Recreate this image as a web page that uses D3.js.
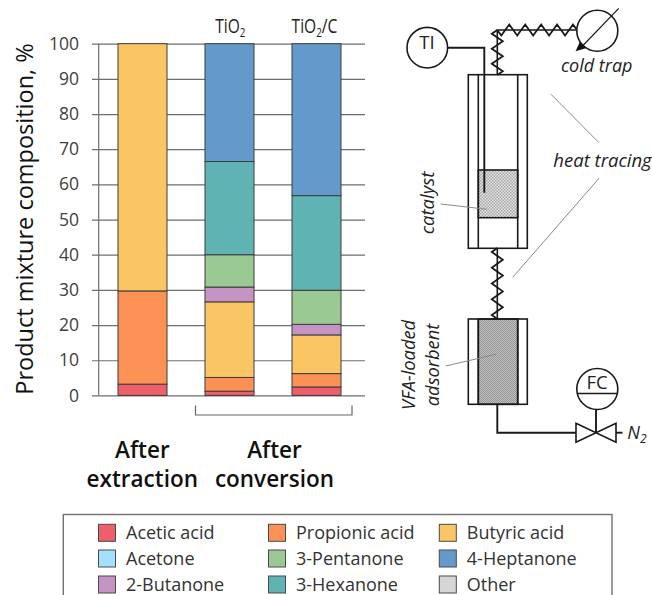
<!DOCTYPE html>
<html lang="en">
<head>
<meta charset="UTF-8">
<title>Product mixture composition</title>
<script src="https://d3js.org/d3.v7.min.js"></script>
<style>
  html, body { margin: 0; padding: 0; background: #fff; overflow: hidden; }
  svg { display: block; }
  text { font-family: "Open Sans", "Noto Sans", sans-serif; }
</style>
</head>
<body>
<script>
// bars, in stacking order from the bottom
var categories = ['After extraction', 'TiO2', 'TiO2/C'];
var acetic = [3.2, 1.2, 2.4];
var propionic = [26.5, 3.9, 3.8];
var butyric = [70.3, 21.5, 11.0];
var acetone = [0, 0, 0];
var butanone = [0, 4.2, 3.0];
var pentanone = [0, 9.2, 9.7];
var hexanone = [0, 26.5, 26.9];
var heptanone = [0, 33.5, 43.2];
var other = [0, 0, 0];

var yTicks = [0, 10, 20, 30, 40, 50, 60, 70, 80, 90, 100];

var seriesNames = ['Acetic acid', 'Propionic acid', 'Butyric acid', 'Acetone', '2-Butanone',
                   '3-Pentanone', '3-Hexanone', '4-Heptanone', 'Other'];
var seriesValues = [acetic, propionic, butyric, acetone, butanone, pentanone, hexanone, heptanone, other];
var seriesColors = ['#ee5f6b', '#fb9155', '#fac663', '#a3e0fb', '#c593c4', '#9bc993', '#60b3b3', '#6499cc', '#d6d6d6'];

// legend reads column by column
var legendOrder = [['Acetic acid', 'Acetone', '2-Butanone'],
                   ['Propionic acid', '3-Pentanone', '3-Hexanone'],
                   ['Butyric acid', '4-Heptanone', 'Other']];

var w = 652;
var h = 595;

var svg = d3.select('body').append('svg')
    .attr('width', w)
    .attr('height', h);

var defs = svg.append('defs');

// dotted fills of the catalyst and the adsorbent
function dots(id, size, bg, fg) {
    var p = defs.append('pattern')
        .attr('id', id)
        .attr('width', size)
        .attr('height', size)
        .attr('patternUnits', 'userSpaceOnUse');
    p.append('rect').attr('width', size).attr('height', size).attr('fill', bg);
    p.append('rect').attr('width', size / 2).attr('height', size / 2).attr('fill', fg);
    p.append('rect').attr('x', size / 2).attr('y', size / 2).attr('width', size / 2).attr('height', size / 2).attr('fill', fg);
}
dots('catalyst', 3, '#e4e4e4', '#a8a8a8');
dots('adsorbent', 2, '#c0c0c0', '#969696');

var yScale = d3.scaleLinear().domain([0, 100]).range([395.4, 43.7]);

var xScale = d3.scaleBand()
    .domain(categories)
    .range([99, 360])
    .paddingInner(38 / 87)
    .paddingOuter(19 / 87);

// grid lines double as ticks, so the axis draws them
var yAxis = d3.axisLeft(yScale)
    .tickValues(yTicks)
    .tickSize(-273)
    .tickPadding(13)
    .tickFormat(d3.format('d'));

var axisG = svg.append('g')
    .attr('transform', 'translate(92,0)')
    .call(yAxis);
axisG.select('.domain').remove();
axisG.selectAll('.tick line').attr('stroke', '#6e6e6e').attr('stroke-width', 1.2);
axisG.selectAll('.tick text')
    .attr('fill', '#404040')
    .attr('font-size', 17.5);

svg.append('line')
    .attr('x1', 98.7).attr('x2', 98.7)
    .attr('y1', yScale(100)).attr('y2', yScale(0))
    .attr('stroke', '#6e6e6e').attr('stroke-width', 1.2);

var rows = categories.map(function(c, i) {
    var row = { category: c };
    seriesNames.forEach(function(s, k) { row[s] = seriesValues[k][i]; });
    return row;
});

var stacked = d3.stack().keys(seriesNames)(rows);

svg.selectAll('.layer')
    .data(stacked)
    .enter()
    .append('g')
    .attr('class', 'layer')
    .attr('fill', function(d, i) { return seriesColors[i]; })
    .selectAll('rect')
    .data(function(d) { return d.filter(function(v) { return v[1] > v[0]; }); })
    .enter()
    .append('rect')
    .attr('x', function(d) { return xScale(d.data.category); })
    .attr('y', function(d) { return yScale(d[1]); })
    .attr('width', xScale.bandwidth())
    .attr('height', function(d) { return yScale(d[0]) - yScale(d[1]); })
    .attr('stroke', '#3c3c3c')
    .attr('stroke-width', 1);

// y title
svg.append('text')
    .attr('transform', 'translate(32.7,219) rotate(-90)')
    .attr('text-anchor', 'middle')
    .attr('font-size', 23.5)
    .attr('fill', '#111')
    .text('Product mixture composition, %');

// catalyst names over the bars, squeezed since the original face is narrower
function subLabel(x, a, b) {
    var t = svg.append('text')
        .attr('transform', 'translate(' + x + ',33.3) scale(0.76,1)')
        .attr('text-anchor', 'middle')
        .attr('font-size', 20.5)
        .attr('fill', '#222');
    t.append('tspan').text(a);
    t.append('tspan').attr('dy', 4).attr('font-size', 13).text('2');
    t.append('tspan').attr('dy', -4).text(b);
}
subLabel(230.3, 'TiO', '');
subLabel(314.5, 'TiO', '/C');

// bracket under the conversion bars
svg.append('path')
    .attr('d', 'M195.5,405.5V415H352V405.5')
    .attr('fill', 'none')
    .attr('stroke', '#666')
    .attr('stroke-width', 1.2);

function groupLabel(x, lines) {
    svg.selectAll(null)
        .data(lines)
        .enter()
        .append('text')
        .attr('x', x)
        .attr('y', function(d, i) { return 458.3 + i * 29; })
        .attr('text-anchor', 'middle')
        .attr('font-size', 22.5)
        .attr('font-weight', 600)
        .attr('fill', '#111')
        .text(function(d) { return d; });
}
groupLabel(142.3, ['After', 'extraction']);
groupLabel(274.5, ['After', 'conversion']);

// legend, runs off the bottom of the picture
svg.append('rect')
    .attr('x', 63.3).attr('y', 514.5)
    .attr('width', 548.7).attr('height', 100)
    .attr('fill', 'none')
    .attr('stroke', '#707070')
    .attr('stroke-width', 1.4);

var legendX = [98.5, 268.5, 439.3];
var legendY = [524.3, 550, 576];

legendOrder.forEach(function(col, c) {
    col.forEach(function(name, r) {
        svg.append('rect')
            .attr('x', legendX[c]).attr('y', legendY[r])
            .attr('width', 17).attr('height', 17)
            .attr('fill', seriesColors[seriesNames.indexOf(name)])
            .attr('stroke', '#4a4a4a')
            .attr('stroke-width', 1);
        svg.append('text')
            .attr('x', legendX[c] + 27.5).attr('y', legendY[r] + 15)
            .attr('font-size', 18)
            .attr('fill', '#333')
            .text(name);
    });
});

// reactor schematic
var pfd = svg.append('g')
    .attr('fill', 'none')
    .attr('stroke', '#1a1a1a')
    .attr('stroke-width', 1.6);

function zigzag(x0, y0, x1, y1, n, amp) {
    var pts = [[x0, y0]];
    var dx = (x1 - x0) / n, dy = (y1 - y0) / n;
    var len = Math.sqrt(dx * dx + dy * dy);
    for (var i = 0; i < n; i++) {
        var s = i % 2 ? -1 : 1;
        pts.push([x0 + dx * (i + 0.5) - s * amp * dy / len, y0 + dy * (i + 0.5) + s * amp * dx / len]);
    }
    pts.push([x1, y1]);
    return d3.line()(pts);
}

// plain pipe with the heat tracing wound round it
pfd.append('path').attr('d', 'M497.3,75V30H577');
pfd.append('path').attr('d', zigzag(497.3, 75, 497.3, 30, 6, 5.5)).attr('stroke-width', 1.8);
pfd.append('path').attr('d', zigzag(497.3, 30, 577, 30, 10, 5.5)).attr('stroke-width', 1.8);
pfd.append('path').attr('d', 'M497.3,248V319');
pfd.append('path').attr('d', zigzag(497.3, 248, 497.3, 319, 9, 5.5)).attr('stroke-width', 1.8);

// top column
pfd.append('rect').attr('x', 478.3).attr('y', 170).attr('width', 39.4).attr('height', 47.7)
    .attr('fill', 'url(#catalyst)');
pfd.append('rect').attr('x', 468.3).attr('y', 74.7).attr('width', 59).attr('height', 173.6);
pfd.append('path').attr('d', 'M478.3,74.7V248.3M517.7,74.7V248.3');

// thermocouple
pfd.append('circle').attr('cx', 427.3).attr('cy', 47.7).attr('r', 20.3).attr('fill', '#fff');
pfd.append('path').attr('d', 'M447.6,47.7H484.3V192.7').attr('stroke-width', 1.9);

// cold trap
pfd.append('circle').attr('cx', 597.3).attr('cy', 30.7).attr('r', 20.5).attr('fill', '#fff');
pfd.append('path').attr('d', 'M618.7,8.3L582,46.5').attr('stroke-width', 1.2);
svg.append('path').attr('d', 'M575.6,51.3L580,41.5L586.5,48Z').attr('fill', '#111');

// bottom column
pfd.append('rect').attr('x', 478.3).attr('y', 319).attr('width', 39.4).attr('height', 85.3)
    .attr('fill', 'url(#adsorbent)');
pfd.append('rect').attr('x', 468.3).attr('y', 319).attr('width', 59).attr('height', 85.3);
pfd.append('path').attr('d', 'M478.3,319V404.3M517.7,319V404.3');

// feed line and valve
pfd.append('path').attr('d', 'M497.3,404.3V432.7H576').attr('stroke-width', 1.9);
pfd.append('path').attr('d', 'M576,423.3V442.3L616,423.3V442.3Z').attr('fill', '#fff');
pfd.append('path').attr('d', 'M616,432.7H622.5').attr('stroke-width', 1.9);
pfd.append('path').attr('d', 'M596,409.5V432.7').attr('stroke-width', 1.9);
pfd.append('circle').attr('cx', 597.3).attr('cy', 389).attr('r', 20.5).attr('fill', '#fff');
pfd.append('path').attr('d', 'M577,393.5H617.6');

// thin grey leaders
svg.append('g')
    .attr('stroke', '#8a8a8a')
    .attr('stroke-width', 1)
    .selectAll('line')
    .data([[551, 94.3, 599, 142.7], [599, 178.3, 512.7, 277.3], [440.7, 204, 486.7, 209.3], [445.7, 366, 496, 354.3]])
    .enter()
    .append('line')
    .attr('x1', function(d) { return d[0]; })
    .attr('y1', function(d) { return d[1]; })
    .attr('x2', function(d) { return d[2]; })
    .attr('y2', function(d) { return d[3]; });

function note(txt, x, y, size, rot, style) {
    svg.append('text')
        .attr('transform', 'translate(' + x + ',' + y + ')' + (rot ? ' rotate(' + rot + ')' : ''))
        .attr('text-anchor', 'middle')
        .attr('font-size', size)
        .attr('font-style', style || 'italic')
        .attr('fill', '#222')
        .text(txt);
}
note('TI', 427, 48.5, 18.5, 0, 'normal');
note('FC', 597, 389, 18.5, 0, 'normal');
note('cold trap', 596.7, 72, 18, 0);
note('heat tracing', 602.5, 167, 18.5, 0);
note('catalyst', 434, 203, 18.5, -90);
note('VFA-loaded', 415, 365, 18.3, -90);
note('adsorbent', 439, 365, 18.3, -90);

var n2 = svg.append('text')
    .attr('x', 627.3).attr('y', 438.7)
    .attr('font-size', 18)
    .attr('font-style', 'italic')
    .attr('fill', '#222');
n2.append('tspan').text('N');
n2.append('tspan').attr('dy', 4).attr('font-size', 12).text('2');
</script>
</body>
</html>
